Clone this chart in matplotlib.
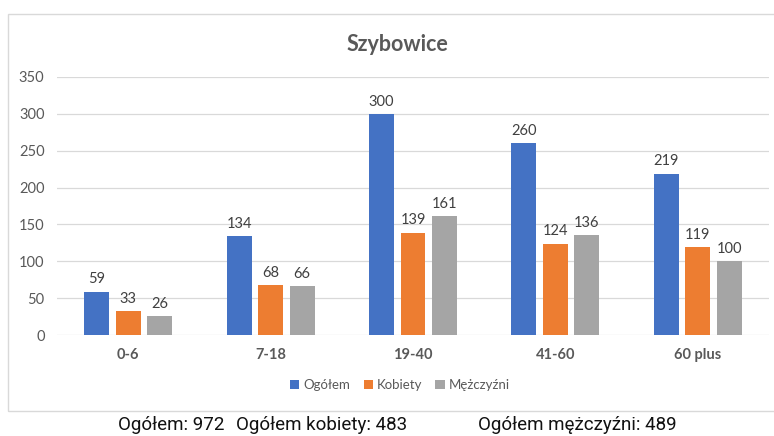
import numpy as np
import matplotlib.pyplot as plt
from matplotlib.patches import Rectangle

categories = ["0-6", "7-18", "19-40", "41-60", "60 plus"]
ogolem = [59, 134, 300, 260, 219]
kobiety = [33, 68, 139, 124, 119]
mezczyzni = [26, 66, 161, 136, 100]
series_names = ["Ogółem", "Kobiety", "Mężczyźni"]
colors = ["#4472C4", "#ED7D31", "#A5A5A5"]
yticks = [0, 50, 100, 150, 200, 250, 300, 350]
footer = ["Ogółem: 972", "Ogółem kobiety: 483", "Ogółem mężczyźni: 489"]

plt.rcParams['font.family'] = ['Lato', 'DejaVu Sans']

fig = plt.figure(figsize=(7.74, 4.36), dpi=100)
ax = fig.add_axes([57 / 774, 101 / 436, 712 / 774, 258 / 436])

# chart frame like the Excel chart area
fig.patches.append(Rectangle((8 / 774, 25 / 436), 770 / 774, 397 / 436,
                             transform=fig.transFigure, fill=False,
                             edgecolor="#D9D9D9", linewidth=1))

x = np.arange(len(categories))
width = 0.175
step = 0.221
for i, (vals, name, col) in enumerate(zip([ogolem, kobiety, mezczyzni], series_names, colors)):
    pos = x + (i - 1) * step
    bars = ax.bar(pos, vals, width, color=col, label=name, zorder=3)
    for b, v in zip(bars, vals):
        ax.text(b.get_x() + b.get_width() / 2, v + 7, str(v), ha="center", va="bottom",
                fontsize=10.5, color="#404040")

ax.set_xlim(-0.5, len(categories) - 0.5)
ax.set_ylim(0, 350)
ax.set_yticks(yticks)
ax.set_xticks(x)
ax.set_xticklabels(categories, fontweight="bold")
ax.tick_params(axis="y", length=0, labelsize=10.5, labelcolor="#595959", pad=9)
ax.tick_params(axis="x", length=0, labelsize=10.5, labelcolor="#595959", pad=9)
ax.grid(axis="y", color="#D9D9D9", linewidth=0.9, zorder=0)
for s in ax.spines.values():
    s.set_visible(False)

fig.text(397 / 774, 1 - 44 / 436, "Szybowice", ha="center", va="center",
         fontsize=15.5, fontweight="bold", color="#595959")

handles, labels = ax.get_legend_handles_labels()
fig.legend(handles, labels, loc="center", bbox_to_anchor=(400 / 774, 1 - 385 / 436),
           ncol=3, frameon=False, fontsize=9.5, handlelength=0.7, handleheight=0.7,
           handletextpad=0.3, columnspacing=1.0, labelcolor="#595959")

footer_x = [118, 236, 478]
for fx, txt in zip(footer_x, footer):
    fig.text(fx / 774, 1 - 425 / 436, txt, ha="left", va="center", fontsize=13.5,
             color="#111111", family=["Roboto", "DejaVu Sans"])

fig.savefig("out.png", dpi=100)
